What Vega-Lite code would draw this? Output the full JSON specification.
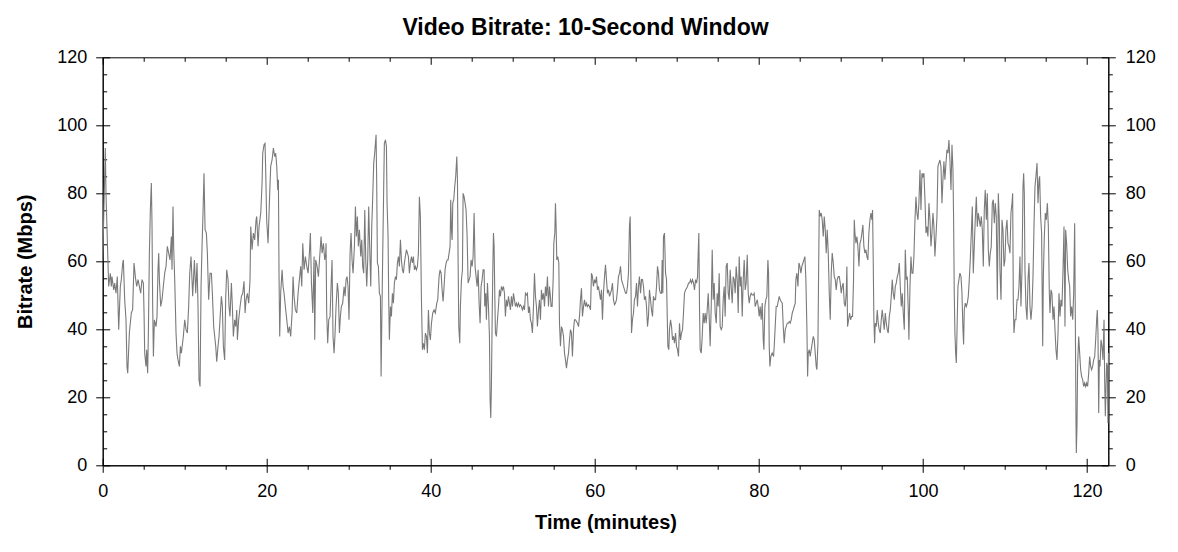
{
  "$schema": "https://vega.github.io/schema/vega-lite/v6.json",
  "width": 1005.6,
  "height": 408,
  "autosize": {"type": "none"},
  "padding": {"left": 102.7, "top": 57.3, "right": 69.7, "bottom": 86.7},
  "background": "white",
  "title": {
    "text": "Video Bitrate: 10-Second Window",
    "font": "Liberation Sans",
    "fontSize": 23,
    "fontWeight": "bold",
    "color": "black",
    "anchor": "middle",
    "frame": "bounds",
    "offset": 8
  },
  "config": {
    "view": {"stroke": "black", "strokeWidth": 1},
    "axis": {
      "labelFont": "Liberation Sans",
      "titleFont": "Liberation Sans",
      "labelFontSize": 18,
      "titleFontSize": 20,
      "titleFontWeight": "bold",
      "labelColor": "black",
      "titleColor": "black",
      "tickColor": "black",
      "domainColor": "black",
      "grid": false
    }
  },
  "data": {
    "values": [
      {"minute": 0.0, "bitrate": 60}, {"minute": 0.32, "bitrate": 93.3}, {"minute": 0.4, "bitrate": 80.0}, {"minute": 0.61, "bitrate": 62.4},
      {"minute": 0.73, "bitrate": 52.6}, {"minute": 0.93, "bitrate": 56.5}, {"minute": 1.05, "bitrate": 52.6}, {"minute": 1.13, "bitrate": 55.5},
      {"minute": 1.34, "bitrate": 51.6}, {"minute": 1.46, "bitrate": 53.6}, {"minute": 1.62, "bitrate": 50.6}, {"minute": 1.78, "bitrate": 55.5},
      {"minute": 1.95, "bitrate": 39.9}, {"minute": 2.15, "bitrate": 52.6}, {"minute": 2.27, "bitrate": 54.6}, {"minute": 2.44, "bitrate": 59.5},
      {"minute": 2.52, "bitrate": 60.4}, {"minute": 2.68, "bitrate": 48.7}, {"minute": 2.84, "bitrate": 42.8}, {"minute": 2.96, "bitrate": 29.1},
      {"minute": 3.05, "bitrate": 27.1}, {"minute": 3.25, "bitrate": 38.9}, {"minute": 3.49, "bitrate": 44.8}, {"minute": 3.65, "bitrate": 45.8},
      {"minute": 3.82, "bitrate": 59.5}, {"minute": 3.98, "bitrate": 55.5}, {"minute": 4.14, "bitrate": 52.6}, {"minute": 4.31, "bitrate": 54.6},
      {"minute": 4.47, "bitrate": 52.6}, {"minute": 4.63, "bitrate": 50.6}, {"minute": 4.79, "bitrate": 54.6}, {"minute": 4.96, "bitrate": 53.6},
      {"minute": 5.04, "bitrate": 44.8}, {"minute": 5.12, "bitrate": 33.0}, {"minute": 5.28, "bitrate": 29.1}, {"minute": 5.36, "bitrate": 34.0},
      {"minute": 5.48, "bitrate": 27.1}, {"minute": 5.57, "bitrate": 38.9}, {"minute": 5.69, "bitrate": 62.4}, {"minute": 5.81, "bitrate": 75.1},
      {"minute": 5.93, "bitrate": 83.0}, {"minute": 6.01, "bitrate": 71.2}, {"minute": 6.09, "bitrate": 47.7}, {"minute": 6.18, "bitrate": 32.0},
      {"minute": 6.3, "bitrate": 42.8}, {"minute": 6.5, "bitrate": 40.8}, {"minute": 6.62, "bitrate": 43.8}, {"minute": 6.74, "bitrate": 57.5},
      {"minute": 6.83, "bitrate": 62.4}, {"minute": 6.91, "bitrate": 54.6}, {"minute": 7.07, "bitrate": 46.7}, {"minute": 7.23, "bitrate": 48.7},
      {"minute": 7.39, "bitrate": 52.6}, {"minute": 7.56, "bitrate": 56.5}, {"minute": 7.72, "bitrate": 58.5}, {"minute": 7.88, "bitrate": 64.4},
      {"minute": 8.04, "bitrate": 62.4}, {"minute": 8.21, "bitrate": 60.4}, {"minute": 8.37, "bitrate": 67.3}, {"minute": 8.45, "bitrate": 57.5},
      {"minute": 8.57, "bitrate": 76.1}, {"minute": 8.65, "bitrate": 64.4}, {"minute": 8.78, "bitrate": 54.6}, {"minute": 8.94, "bitrate": 38.9},
      {"minute": 9.06, "bitrate": 33.0}, {"minute": 9.18, "bitrate": 31.0}, {"minute": 9.35, "bitrate": 29.1}, {"minute": 9.47, "bitrate": 35.0},
      {"minute": 9.59, "bitrate": 33.0}, {"minute": 9.83, "bitrate": 37.9}, {"minute": 10.0, "bitrate": 42.8}, {"minute": 10.16, "bitrate": 39.9},
      {"minute": 10.32, "bitrate": 38.9}, {"minute": 10.48, "bitrate": 46.7}, {"minute": 10.61, "bitrate": 56.5}, {"minute": 10.77, "bitrate": 61.4},
      {"minute": 10.97, "bitrate": 49.7}, {"minute": 11.18, "bitrate": 60.4}, {"minute": 11.34, "bitrate": 50.6}, {"minute": 11.5, "bitrate": 59.5},
      {"minute": 11.62, "bitrate": 46.7}, {"minute": 11.74, "bitrate": 25.2}, {"minute": 11.87, "bitrate": 23.2}, {"minute": 11.99, "bitrate": 52.6},
      {"minute": 12.11, "bitrate": 64.4}, {"minute": 12.23, "bitrate": 74.2}, {"minute": 12.35, "bitrate": 85.9}, {"minute": 12.48, "bitrate": 69.3},
      {"minute": 12.64, "bitrate": 68.3}, {"minute": 12.76, "bitrate": 62.4}, {"minute": 12.92, "bitrate": 48.7}, {"minute": 13.09, "bitrate": 56.5},
      {"minute": 13.25, "bitrate": 56.5}, {"minute": 13.37, "bitrate": 50.6}, {"minute": 13.53, "bitrate": 40.8},
      {"minute": 13.78, "bitrate": 35.0}, {"minute": 13.9, "bitrate": 30.5}, {"minute": 14.06, "bitrate": 35.0}, {"minute": 14.18, "bitrate": 37.9},
      {"minute": 14.3, "bitrate": 42.8}, {"minute": 14.47, "bitrate": 49.7}, {"minute": 14.59, "bitrate": 46.7}, {"minute": 14.71, "bitrate": 35.0},
      {"minute": 14.87, "bitrate": 31.0}, {"minute": 14.99, "bitrate": 48.7}, {"minute": 15.12, "bitrate": 57.5}, {"minute": 15.28, "bitrate": 54.6},
      {"minute": 15.4, "bitrate": 46.7}, {"minute": 15.52, "bitrate": 43.8}, {"minute": 15.69, "bitrate": 53.6}, {"minute": 15.81, "bitrate": 46.7},
      {"minute": 15.93, "bitrate": 37.9}, {"minute": 16.09, "bitrate": 42.8}, {"minute": 16.22, "bitrate": 40.8}, {"minute": 16.34, "bitrate": 45.7},
      {"minute": 16.42, "bitrate": 36.9}, {"minute": 16.58, "bitrate": 42.8}, {"minute": 16.75, "bitrate": 46.7}, {"minute": 16.91, "bitrate": 49.7},
      {"minute": 17.07, "bitrate": 50.6}, {"minute": 17.23, "bitrate": 54.1}, {"minute": 17.36, "bitrate": 44.8}, {"minute": 17.48, "bitrate": 48.7},
      {"minute": 17.64, "bitrate": 50.6}, {"minute": 17.8, "bitrate": 47.7}, {"minute": 17.96, "bitrate": 54.6}, {"minute": 18.05, "bitrate": 70.2},
      {"minute": 18.21, "bitrate": 63.4}, {"minute": 18.37, "bitrate": 68.3}, {"minute": 18.53, "bitrate": 66.3}, {"minute": 18.7, "bitrate": 72.2},
      {"minute": 18.78, "bitrate": 73.2}, {"minute": 18.94, "bitrate": 64.4}, {"minute": 19.06, "bitrate": 70.2}, {"minute": 19.27, "bitrate": 74.2},
      {"minute": 19.43, "bitrate": 83.0}, {"minute": 19.51, "bitrate": 91.8}, {"minute": 19.67, "bitrate": 94.3}, {"minute": 19.79, "bitrate": 94.7},
      {"minute": 19.87, "bitrate": 86.9}, {"minute": 19.99, "bitrate": 72.2}, {"minute": 20.16, "bitrate": 65.3}, {"minute": 20.32, "bitrate": 77.1},
      {"minute": 20.48, "bitrate": 87.9}, {"minute": 20.65, "bitrate": 89.8}, {"minute": 20.81, "bitrate": 93.3}, {"minute": 20.97, "bitrate": 90.8},
      {"minute": 21.09, "bitrate": 91.8}, {"minute": 21.22, "bitrate": 87.9}, {"minute": 21.34, "bitrate": 81.0}, {"minute": 21.42, "bitrate": 84.0},
      {"minute": 21.5, "bitrate": 55.5}, {"minute": 21.58, "bitrate": 37.9}, {"minute": 21.7, "bitrate": 50.6}, {"minute": 21.87, "bitrate": 57.5},
      {"minute": 21.99, "bitrate": 52.6}, {"minute": 22.11, "bitrate": 50.6}, {"minute": 22.27, "bitrate": 46.7}, {"minute": 22.44, "bitrate": 42.8},
      {"minute": 22.6, "bitrate": 38.9}, {"minute": 22.76, "bitrate": 40.8}, {"minute": 22.92, "bitrate": 37.9}, {"minute": 23.09, "bitrate": 44.8},
      {"minute": 23.21, "bitrate": 55.5}, {"minute": 23.33, "bitrate": 49.7}, {"minute": 23.49, "bitrate": 45.7}, {"minute": 23.66, "bitrate": 44.8},
      {"minute": 23.82, "bitrate": 50.6}, {"minute": 23.98, "bitrate": 54.6}, {"minute": 24.14, "bitrate": 58.5}, {"minute": 24.27, "bitrate": 52.6},
      {"minute": 24.39, "bitrate": 65.3}, {"minute": 24.55, "bitrate": 57.5}, {"minute": 24.71, "bitrate": 61.4}, {"minute": 24.88, "bitrate": 58.5},
      {"minute": 25.04, "bitrate": 56.5}, {"minute": 25.2, "bitrate": 62.4}, {"minute": 25.32, "bitrate": 68.3}, {"minute": 25.45, "bitrate": 53.6},
      {"minute": 25.61, "bitrate": 44.8}, {"minute": 25.77, "bitrate": 61.4}, {"minute": 25.85, "bitrate": 36.9}, {"minute": 25.97, "bitrate": 60.4},
      {"minute": 26.14, "bitrate": 58.5}, {"minute": 26.3, "bitrate": 55.5}, {"minute": 26.46, "bitrate": 61.4}, {"minute": 26.62, "bitrate": 67.3},
      {"minute": 26.75, "bitrate": 62.4}, {"minute": 26.91, "bitrate": 65.3}, {"minute": 27.07, "bitrate": 60.4}, {"minute": 27.19, "bitrate": 62.4},
      {"minute": 27.23, "bitrate": 65.3}, {"minute": 27.31, "bitrate": 44.8}, {"minute": 27.43, "bitrate": 35.9}, {"minute": 27.56, "bitrate": 42.8},
      {"minute": 27.72, "bitrate": 43.8}, {"minute": 27.84, "bitrate": 52.6}, {"minute": 27.96, "bitrate": 60.4}, {"minute": 28.08, "bitrate": 37.9},
      {"minute": 28.21, "bitrate": 33.0}, {"minute": 28.33, "bitrate": 38.9}, {"minute": 28.45, "bitrate": 46.7}, {"minute": 28.61, "bitrate": 53.6},
      {"minute": 28.73, "bitrate": 50.6}, {"minute": 28.86, "bitrate": 38.9}, {"minute": 28.98, "bitrate": 43.8}, {"minute": 29.1, "bitrate": 46.7},
      {"minute": 29.26, "bitrate": 47.7}, {"minute": 29.43, "bitrate": 52.6}, {"minute": 29.55, "bitrate": 49.7}, {"minute": 29.67, "bitrate": 54.6},
      {"minute": 29.79, "bitrate": 55.5}, {"minute": 29.91, "bitrate": 52.6}, {"minute": 30.03, "bitrate": 42.8}, {"minute": 30.16, "bitrate": 62.4},
      {"minute": 30.28, "bitrate": 68.3}, {"minute": 30.4, "bitrate": 60.4}, {"minute": 30.52, "bitrate": 56.5}, {"minute": 30.69, "bitrate": 64.4},
      {"minute": 30.81, "bitrate": 76.1}, {"minute": 30.93, "bitrate": 67.3}, {"minute": 31.05, "bitrate": 73.2}, {"minute": 31.17, "bitrate": 64.4},
      {"minute": 31.3, "bitrate": 69.3}, {"minute": 31.46, "bitrate": 61.4}, {"minute": 31.58, "bitrate": 66.3}, {"minute": 31.7, "bitrate": 58.5},
      {"minute": 31.82, "bitrate": 56.5}, {"minute": 31.95, "bitrate": 75.1}, {"minute": 32.07, "bitrate": 60.4}, {"minute": 32.19, "bitrate": 52.6},
      {"minute": 32.31, "bitrate": 60.4}, {"minute": 32.43, "bitrate": 76.1}, {"minute": 32.56, "bitrate": 63.4}, {"minute": 32.68, "bitrate": 52.6},
      {"minute": 32.8, "bitrate": 70.2}, {"minute": 32.92, "bitrate": 79.0}, {"minute": 33.04, "bitrate": 88.9}, {"minute": 33.16, "bitrate": 91.8},
      {"minute": 33.33, "bitrate": 97.2}, {"minute": 33.41, "bitrate": 82.0}, {"minute": 33.49, "bitrate": 59.5}, {"minute": 33.61, "bitrate": 58.5},
      {"minute": 33.73, "bitrate": 50.6}, {"minute": 33.86, "bitrate": 49.7}, {"minute": 33.94, "bitrate": 26.1}, {"minute": 34.02, "bitrate": 40.8},
      {"minute": 34.14, "bitrate": 62.4}, {"minute": 34.26, "bitrate": 82.0}, {"minute": 34.34, "bitrate": 94.7}, {"minute": 34.47, "bitrate": 95.7},
      {"minute": 34.59, "bitrate": 93.8}, {"minute": 34.67, "bitrate": 77.1}, {"minute": 34.79, "bitrate": 67.3}, {"minute": 34.87, "bitrate": 48.7},
      {"minute": 34.95, "bitrate": 36.9}, {"minute": 35.08, "bitrate": 46.7}, {"minute": 35.2, "bitrate": 43.8}, {"minute": 35.32, "bitrate": 50.6},
      {"minute": 35.44, "bitrate": 47.7}, {"minute": 35.56, "bitrate": 53.6}, {"minute": 35.69, "bitrate": 55.5}, {"minute": 35.81, "bitrate": 54.6},
      {"minute": 35.93, "bitrate": 59.5}, {"minute": 36.05, "bitrate": 61.4}, {"minute": 36.17, "bitrate": 58.5}, {"minute": 36.3, "bitrate": 66.3},
      {"minute": 36.42, "bitrate": 60.4}, {"minute": 36.54, "bitrate": 57.5}, {"minute": 36.66, "bitrate": 56.5}, {"minute": 36.78, "bitrate": 59.5},
      {"minute": 36.9, "bitrate": 61.4}, {"minute": 37.03, "bitrate": 63.4}, {"minute": 37.15, "bitrate": 62.4}, {"minute": 37.27, "bitrate": 61.4},
      {"minute": 37.39, "bitrate": 56.5}, {"minute": 37.51, "bitrate": 59.5}, {"minute": 37.64, "bitrate": 61.4}, {"minute": 37.76, "bitrate": 59.5},
      {"minute": 37.88, "bitrate": 61.4}, {"minute": 38.0, "bitrate": 57.5}, {"minute": 38.12, "bitrate": 58.5}, {"minute": 38.25, "bitrate": 57.5},
      {"minute": 38.37, "bitrate": 58.5}, {"minute": 38.49, "bitrate": 62.4}, {"minute": 38.61, "bitrate": 79.0}, {"minute": 38.73, "bitrate": 73.2},
      {"minute": 38.86, "bitrate": 48.7}, {"minute": 38.98, "bitrate": 34.0}, {"minute": 39.1, "bitrate": 35.9}, {"minute": 39.22, "bitrate": 34.0},
      {"minute": 39.34, "bitrate": 38.9}, {"minute": 39.47, "bitrate": 37.9}, {"minute": 39.59, "bitrate": 33.0}, {"minute": 39.71, "bitrate": 45.7},
      {"minute": 39.83, "bitrate": 38.9}, {"minute": 39.95, "bitrate": 36.9}, {"minute": 40.08, "bitrate": 41.8}, {"minute": 40.24, "bitrate": 44.8},
      {"minute": 40.4, "bitrate": 45.7}, {"minute": 40.56, "bitrate": 44.8}, {"minute": 40.73, "bitrate": 47.7}, {"minute": 40.85, "bitrate": 48.7},
      {"minute": 40.89, "bitrate": 50.6}, {"minute": 41.01, "bitrate": 55.5}, {"minute": 41.13, "bitrate": 57.5}, {"minute": 41.26, "bitrate": 56.5},
      {"minute": 41.38, "bitrate": 51.6}, {"minute": 41.5, "bitrate": 48.2}, {"minute": 41.62, "bitrate": 52.6}, {"minute": 41.74, "bitrate": 57.5},
      {"minute": 41.87, "bitrate": 59.5}, {"minute": 41.99, "bitrate": 60.4}, {"minute": 42.11, "bitrate": 60.4}, {"minute": 42.23, "bitrate": 62.4},
      {"minute": 42.35, "bitrate": 64.4}, {"minute": 42.43, "bitrate": 78.1}, {"minute": 42.52, "bitrate": 69.3}, {"minute": 42.6, "bitrate": 66.3},
      {"minute": 42.68, "bitrate": 77.1}, {"minute": 42.8, "bitrate": 78.1}, {"minute": 42.92, "bitrate": 82.0}, {"minute": 43.04, "bitrate": 85.0},
      {"minute": 43.17, "bitrate": 90.8}, {"minute": 43.25, "bitrate": 84.0}, {"minute": 43.33, "bitrate": 60.4}, {"minute": 43.41, "bitrate": 40.8},
      {"minute": 43.53, "bitrate": 35.9}, {"minute": 43.61, "bitrate": 46.7}, {"minute": 43.74, "bitrate": 54.6}, {"minute": 43.86, "bitrate": 57.5},
      {"minute": 43.94, "bitrate": 80.0}, {"minute": 44.06, "bitrate": 79.0}, {"minute": 44.18, "bitrate": 77.1}, {"minute": 44.3, "bitrate": 75.1},
      {"minute": 44.43, "bitrate": 67.3}, {"minute": 44.55, "bitrate": 53.6}, {"minute": 44.67, "bitrate": 54.6}, {"minute": 44.79, "bitrate": 55.5},
      {"minute": 44.91, "bitrate": 60.4}, {"minute": 45.04, "bitrate": 58.5}, {"minute": 45.16, "bitrate": 61.4}, {"minute": 45.28, "bitrate": 74.2},
      {"minute": 45.4, "bitrate": 58.5}, {"minute": 45.52, "bitrate": 55.5}, {"minute": 45.65, "bitrate": 52.6}, {"minute": 45.77, "bitrate": 57.5},
      {"minute": 45.89, "bitrate": 47.7}, {"minute": 46.01, "bitrate": 41.8}, {"minute": 46.13, "bitrate": 52.6}, {"minute": 46.26, "bitrate": 54.6},
      {"minute": 46.38, "bitrate": 57.5}, {"minute": 46.5, "bitrate": 57.5}, {"minute": 46.58, "bitrate": 46.7}, {"minute": 46.7, "bitrate": 50.6},
      {"minute": 46.78, "bitrate": 42.8}, {"minute": 46.91, "bitrate": 53.6}, {"minute": 47.03, "bitrate": 46.7}, {"minute": 47.15, "bitrate": 37.9},
      {"minute": 47.23, "bitrate": 19.3}, {"minute": 47.31, "bitrate": 13.9}, {"minute": 47.39, "bitrate": 23.2}, {"minute": 47.48, "bitrate": 42.8},
      {"minute": 47.56, "bitrate": 57.5}, {"minute": 47.64, "bitrate": 68.3}, {"minute": 47.72, "bitrate": 64.4}, {"minute": 47.8, "bitrate": 50.6},
      {"minute": 47.88, "bitrate": 38.9}, {"minute": 48.0, "bitrate": 37.9}, {"minute": 48.13, "bitrate": 42.8}, {"minute": 48.25, "bitrate": 46.7},
      {"minute": 48.37, "bitrate": 51.6}, {"minute": 48.49, "bitrate": 49.7}, {"minute": 48.61, "bitrate": 52.6}, {"minute": 48.74, "bitrate": 51.6},
      {"minute": 48.86, "bitrate": 52.6}, {"minute": 48.98, "bitrate": 50.6}, {"minute": 49.1, "bitrate": 43.8}, {"minute": 49.22, "bitrate": 48.7},
      {"minute": 49.35, "bitrate": 46.7}, {"minute": 49.47, "bitrate": 49.7}, {"minute": 49.59, "bitrate": 47.7}, {"minute": 49.71, "bitrate": 45.7},
      {"minute": 49.83, "bitrate": 49.7}, {"minute": 49.96, "bitrate": 46.7}, {"minute": 50.08, "bitrate": 50.6}, {"minute": 50.2, "bitrate": 48.7},
      {"minute": 50.32, "bitrate": 46.7}, {"minute": 50.44, "bitrate": 47.7}, {"minute": 50.56, "bitrate": 46.7}, {"minute": 50.69, "bitrate": 47.7},
      {"minute": 50.81, "bitrate": 46.7}, {"minute": 50.93, "bitrate": 47.2}, {"minute": 51.05, "bitrate": 46.7}, {"minute": 51.17, "bitrate": 45.7},
      {"minute": 51.3, "bitrate": 46.7}, {"minute": 51.42, "bitrate": 45.7}, {"minute": 51.54, "bitrate": 50.6}, {"minute": 51.66, "bitrate": 50.1},
      {"minute": 51.78, "bitrate": 50.6}, {"minute": 51.91, "bitrate": 44.8}, {"minute": 52.03, "bitrate": 46.7}, {"minute": 52.15, "bitrate": 42.8},
      {"minute": 52.27, "bitrate": 41.8}, {"minute": 52.39, "bitrate": 38.9}, {"minute": 52.52, "bitrate": 46.7}, {"minute": 52.64, "bitrate": 56.5},
      {"minute": 52.76, "bitrate": 49.7}, {"minute": 52.88, "bitrate": 46.7}, {"minute": 53.0, "bitrate": 40.8}, {"minute": 53.13, "bitrate": 45.7},
      {"minute": 53.25, "bitrate": 48.7}, {"minute": 53.37, "bitrate": 42.8}, {"minute": 53.49, "bitrate": 51.6}, {"minute": 53.61, "bitrate": 48.7},
      {"minute": 53.74, "bitrate": 50.6}, {"minute": 53.86, "bitrate": 46.7}, {"minute": 53.98, "bitrate": 52.6}, {"minute": 54.1, "bitrate": 49.7},
      {"minute": 54.22, "bitrate": 55.5}, {"minute": 54.35, "bitrate": 46.7}, {"minute": 54.47, "bitrate": 52.6},
      {"minute": 54.55, "bitrate": 50.6}, {"minute": 54.67, "bitrate": 46.7}, {"minute": 54.79, "bitrate": 46.7}, {"minute": 54.92, "bitrate": 54.6},
      {"minute": 55.0, "bitrate": 65.3}, {"minute": 55.12, "bitrate": 68.3}, {"minute": 55.2, "bitrate": 77.1}, {"minute": 55.28, "bitrate": 70.2},
      {"minute": 55.36, "bitrate": 60.4}, {"minute": 55.48, "bitrate": 61.4}, {"minute": 55.61, "bitrate": 59.5}, {"minute": 55.69, "bitrate": 41.8},
      {"minute": 55.81, "bitrate": 35.0}, {"minute": 55.93, "bitrate": 40.8}, {"minute": 56.05, "bitrate": 39.9}, {"minute": 56.18, "bitrate": 37.9},
      {"minute": 56.3, "bitrate": 33.0}, {"minute": 56.42, "bitrate": 31.0}, {"minute": 56.54, "bitrate": 28.6}, {"minute": 56.66, "bitrate": 31.0},
      {"minute": 56.79, "bitrate": 33.0}, {"minute": 56.91, "bitrate": 36.9}, {"minute": 57.03, "bitrate": 39.9}, {"minute": 57.15, "bitrate": 38.9},
      {"minute": 57.27, "bitrate": 32.0}, {"minute": 57.4, "bitrate": 39.9}, {"minute": 57.52, "bitrate": 42.8}, {"minute": 57.64, "bitrate": 42.8},
      {"minute": 57.76, "bitrate": 42.3}, {"minute": 57.88, "bitrate": 41.8}, {"minute": 58.01, "bitrate": 40.8}, {"minute": 58.13, "bitrate": 43.8},
      {"minute": 58.25, "bitrate": 48.7}, {"minute": 58.37, "bitrate": 52.1}, {"minute": 58.49, "bitrate": 43.8}, {"minute": 58.62, "bitrate": 46.7},
      {"minute": 58.74, "bitrate": 48.7}, {"minute": 58.86, "bitrate": 46.7}, {"minute": 58.98, "bitrate": 47.7}, {"minute": 59.1, "bitrate": 46.7},
      {"minute": 59.22, "bitrate": 47.2}, {"minute": 59.35, "bitrate": 46.7}, {"minute": 59.47, "bitrate": 45.7}, {"minute": 59.59, "bitrate": 56.5},
      {"minute": 59.71, "bitrate": 55.5}, {"minute": 59.83, "bitrate": 52.6}, {"minute": 59.96, "bitrate": 54.6}, {"minute": 60.08, "bitrate": 53.6},
      {"minute": 60.2, "bitrate": 55.5}, {"minute": 60.32, "bitrate": 51.6}, {"minute": 60.44, "bitrate": 52.6}, {"minute": 60.57, "bitrate": 50.6},
      {"minute": 60.69, "bitrate": 48.7}, {"minute": 60.81, "bitrate": 51.6}, {"minute": 60.93, "bitrate": 42.8}, {"minute": 61.05, "bitrate": 50.6},
      {"minute": 61.18, "bitrate": 55.5}, {"minute": 61.3, "bitrate": 59.0}, {"minute": 61.42, "bitrate": 54.6}, {"minute": 61.54, "bitrate": 50.6},
      {"minute": 61.66, "bitrate": 51.6}, {"minute": 61.79, "bitrate": 49.7}, {"minute": 61.91, "bitrate": 50.6}, {"minute": 62.03, "bitrate": 51.6},
      {"minute": 62.15, "bitrate": 53.6}, {"minute": 62.27, "bitrate": 48.7}, {"minute": 62.4, "bitrate": 47.2}, {"minute": 62.52, "bitrate": 47.7},
      {"minute": 62.64, "bitrate": 48.7}, {"minute": 62.76, "bitrate": 51.6}, {"minute": 62.88, "bitrate": 55.5}, {"minute": 63.01, "bitrate": 56.5},
      {"minute": 63.13, "bitrate": 58.5}, {"minute": 63.25, "bitrate": 54.6}, {"minute": 63.37, "bitrate": 53.6}, {"minute": 63.49, "bitrate": 52.6},
      {"minute": 63.62, "bitrate": 51.6}, {"minute": 63.74, "bitrate": 50.6}, {"minute": 63.86, "bitrate": 50.6}, {"minute": 63.98, "bitrate": 52.6},
      {"minute": 64.1, "bitrate": 56.5}, {"minute": 64.22, "bitrate": 70.2}, {"minute": 64.31, "bitrate": 73.2}, {"minute": 64.39, "bitrate": 56.5},
      {"minute": 64.47, "bitrate": 38.9}, {"minute": 64.59, "bitrate": 42.8}, {"minute": 64.71, "bitrate": 44.8}, {"minute": 64.83, "bitrate": 48.7},
      {"minute": 64.96, "bitrate": 49.7}, {"minute": 65.08, "bitrate": 53.6}, {"minute": 65.2, "bitrate": 46.7}, {"minute": 65.32, "bitrate": 52.6},
      {"minute": 65.44, "bitrate": 55.5}, {"minute": 65.57, "bitrate": 50.6}, {"minute": 65.69, "bitrate": 54.6}, {"minute": 65.81, "bitrate": 54.6},
      {"minute": 65.93, "bitrate": 52.6}, {"minute": 66.05, "bitrate": 48.7}, {"minute": 66.18, "bitrate": 49.7}, {"minute": 66.3, "bitrate": 46.7},
      {"minute": 66.42, "bitrate": 40.8}, {"minute": 66.54, "bitrate": 43.8}, {"minute": 66.66, "bitrate": 51.6}, {"minute": 66.79, "bitrate": 48.7},
      {"minute": 66.91, "bitrate": 45.7}, {"minute": 67.03, "bitrate": 43.8}, {"minute": 67.15, "bitrate": 49.7}, {"minute": 67.27, "bitrate": 48.7},
      {"minute": 67.4, "bitrate": 48.7}, {"minute": 67.52, "bitrate": 52.6}, {"minute": 67.64, "bitrate": 58.5}, {"minute": 67.76, "bitrate": 56.5},
      {"minute": 67.88, "bitrate": 51.6}, {"minute": 68.01, "bitrate": 50.6}, {"minute": 68.13, "bitrate": 50.6},
      {"minute": 68.21, "bitrate": 60.4}, {"minute": 68.29, "bitrate": 50.6}, {"minute": 68.37, "bitrate": 67.3}, {"minute": 68.49, "bitrate": 68.3},
      {"minute": 68.62, "bitrate": 56.5}, {"minute": 68.74, "bitrate": 54.6}, {"minute": 68.82, "bitrate": 44.8}, {"minute": 68.9, "bitrate": 35.0},
      {"minute": 69.02, "bitrate": 34.0}, {"minute": 69.1, "bitrate": 39.9}, {"minute": 69.23, "bitrate": 42.8}, {"minute": 69.35, "bitrate": 40.8},
      {"minute": 69.47, "bitrate": 36.9}, {"minute": 69.59, "bitrate": 37.9}, {"minute": 69.71, "bitrate": 35.9}, {"minute": 69.84, "bitrate": 38.9},
      {"minute": 69.96, "bitrate": 35.0}, {"minute": 70.08, "bitrate": 34.0}, {"minute": 70.2, "bitrate": 32.0}, {"minute": 70.32, "bitrate": 41.8},
      {"minute": 70.45, "bitrate": 36.9}, {"minute": 70.57, "bitrate": 38.9}, {"minute": 70.69, "bitrate": 39.9}, {"minute": 70.81, "bitrate": 44.8},
      {"minute": 70.93, "bitrate": 50.6}, {"minute": 71.06, "bitrate": 51.6}, {"minute": 71.18, "bitrate": 52.1}, {"minute": 71.3, "bitrate": 52.6},
      {"minute": 71.42, "bitrate": 53.6}, {"minute": 71.54, "bitrate": 53.6}, {"minute": 71.67, "bitrate": 54.6}, {"minute": 71.79, "bitrate": 53.6},
      {"minute": 71.91, "bitrate": 54.6}, {"minute": 72.03, "bitrate": 53.6}, {"minute": 72.15, "bitrate": 51.6}, {"minute": 72.28, "bitrate": 54.6},
      {"minute": 72.4, "bitrate": 53.6}, {"minute": 72.52, "bitrate": 55.5}, {"minute": 72.6, "bitrate": 62.4}, {"minute": 72.68, "bitrate": 68.3},
      {"minute": 72.76, "bitrate": 46.7}, {"minute": 72.84, "bitrate": 34.0}, {"minute": 72.97, "bitrate": 33.0}, {"minute": 73.09, "bitrate": 37.9},
      {"minute": 73.21, "bitrate": 44.8}, {"minute": 73.33, "bitrate": 41.8}, {"minute": 73.45, "bitrate": 44.8}, {"minute": 73.58, "bitrate": 41.8},
      {"minute": 73.7, "bitrate": 45.7}, {"minute": 73.82, "bitrate": 50.6}, {"minute": 73.94, "bitrate": 43.8}, {"minute": 74.06, "bitrate": 35.0},
      {"minute": 74.19, "bitrate": 46.7}, {"minute": 74.31, "bitrate": 63.4}, {"minute": 74.43, "bitrate": 48.7}, {"minute": 74.55, "bitrate": 53.6},
      {"minute": 74.67, "bitrate": 44.8}, {"minute": 74.8, "bitrate": 41.8}, {"minute": 74.92, "bitrate": 50.6}, {"minute": 75.04, "bitrate": 46.7},
      {"minute": 75.16, "bitrate": 56.5}, {"minute": 75.28, "bitrate": 40.8}, {"minute": 75.41, "bitrate": 39.9}, {"minute": 75.53, "bitrate": 40.8},
      {"minute": 75.65, "bitrate": 48.7}, {"minute": 75.77, "bitrate": 52.6}, {"minute": 75.89, "bitrate": 43.8}, {"minute": 76.01, "bitrate": 58.5},
      {"minute": 76.14, "bitrate": 59.5}, {"minute": 76.26, "bitrate": 50.6}, {"minute": 76.38, "bitrate": 48.7}, {"minute": 76.5, "bitrate": 57.5},
      {"minute": 76.62, "bitrate": 52.6}, {"minute": 76.75, "bitrate": 47.7}, {"minute": 76.87, "bitrate": 55.5}, {"minute": 76.99, "bitrate": 54.6},
      {"minute": 77.11, "bitrate": 50.6}, {"minute": 77.23, "bitrate": 58.5}, {"minute": 77.36, "bitrate": 54.6}, {"minute": 77.48, "bitrate": 44.8},
      {"minute": 77.6, "bitrate": 61.4}, {"minute": 77.72, "bitrate": 52.6}, {"minute": 77.84, "bitrate": 55.5}, {"minute": 77.97, "bitrate": 43.8},
      {"minute": 78.09, "bitrate": 54.6}, {"minute": 78.21, "bitrate": 60.4}, {"minute": 78.33, "bitrate": 51.6}, {"minute": 78.45, "bitrate": 53.6},
      {"minute": 78.58, "bitrate": 61.9}, {"minute": 78.7, "bitrate": 50.6}, {"minute": 78.82, "bitrate": 47.7}, {"minute": 78.94, "bitrate": 49.7},
      {"minute": 79.06, "bitrate": 50.6}, {"minute": 79.19, "bitrate": 50.1}, {"minute": 79.31, "bitrate": 50.1}, {"minute": 79.43, "bitrate": 50.6},
      {"minute": 79.55, "bitrate": 46.7}, {"minute": 79.67, "bitrate": 47.7}, {"minute": 79.8, "bitrate": 48.7}, {"minute": 79.92, "bitrate": 46.7},
      {"minute": 80.04, "bitrate": 43.8}, {"minute": 80.16, "bitrate": 46.7}, {"minute": 80.28, "bitrate": 42.8}, {"minute": 80.41, "bitrate": 47.7},
      {"minute": 80.53, "bitrate": 36.9}, {"minute": 80.61, "bitrate": 34.0}, {"minute": 80.73, "bitrate": 46.7}, {"minute": 80.85, "bitrate": 48.7},
      {"minute": 80.97, "bitrate": 49.7}, {"minute": 81.1, "bitrate": 60.4}, {"minute": 81.18, "bitrate": 56.5}, {"minute": 81.26, "bitrate": 35.0},
      {"minute": 81.34, "bitrate": 29.1}, {"minute": 81.46, "bitrate": 32.0}, {"minute": 81.62, "bitrate": 33.0}, {"minute": 81.79, "bitrate": 32.0},
      {"minute": 81.87, "bitrate": 35.0}, {"minute": 81.99, "bitrate": 40.8}, {"minute": 82.11, "bitrate": 46.7}, {"minute": 82.24, "bitrate": 46.7},
      {"minute": 82.36, "bitrate": 48.2}, {"minute": 82.48, "bitrate": 49.7}, {"minute": 82.6, "bitrate": 48.7}, {"minute": 82.72, "bitrate": 48.2},
      {"minute": 82.85, "bitrate": 47.7}, {"minute": 82.97, "bitrate": 40.8}, {"minute": 83.09, "bitrate": 35.9}, {"minute": 83.21, "bitrate": 39.9},
      {"minute": 83.33, "bitrate": 40.8}, {"minute": 83.46, "bitrate": 41.8}, {"minute": 83.58, "bitrate": 41.8}, {"minute": 83.7, "bitrate": 42.3},
      {"minute": 83.82, "bitrate": 41.8}, {"minute": 83.94, "bitrate": 42.8}, {"minute": 84.07, "bitrate": 44.8}, {"minute": 84.19, "bitrate": 45.7},
      {"minute": 84.31, "bitrate": 46.7}, {"minute": 84.43, "bitrate": 47.7}, {"minute": 84.51, "bitrate": 54.6}, {"minute": 84.63, "bitrate": 56.5},
      {"minute": 84.76, "bitrate": 52.6}, {"minute": 84.88, "bitrate": 59.5}, {"minute": 85.0, "bitrate": 58.5}, {"minute": 85.12, "bitrate": 56.5},
      {"minute": 85.24, "bitrate": 58.5}, {"minute": 85.37, "bitrate": 59.5}, {"minute": 85.49, "bitrate": 60.4}, {"minute": 85.61, "bitrate": 61.4},
      {"minute": 85.73, "bitrate": 54.6}, {"minute": 85.85, "bitrate": 40.8}, {"minute": 85.94, "bitrate": 26.1}, {"minute": 86.02, "bitrate": 33.0},
      {"minute": 86.14, "bitrate": 34.0}, {"minute": 86.26, "bitrate": 32.0}, {"minute": 86.38, "bitrate": 34.0}, {"minute": 86.5, "bitrate": 35.9},
      {"minute": 86.63, "bitrate": 37.9}, {"minute": 86.75, "bitrate": 36.9}, {"minute": 86.87, "bitrate": 33.0}, {"minute": 86.99, "bitrate": 29.1},
      {"minute": 87.07, "bitrate": 28.1}, {"minute": 87.2, "bitrate": 35.9}, {"minute": 87.28, "bitrate": 56.5}, {"minute": 87.36, "bitrate": 75.1},
      {"minute": 87.48, "bitrate": 73.2}, {"minute": 87.6, "bitrate": 74.2}, {"minute": 87.72, "bitrate": 72.2}, {"minute": 87.85, "bitrate": 67.3},
      {"minute": 87.97, "bitrate": 73.2}, {"minute": 88.09, "bitrate": 69.3}, {"minute": 88.21, "bitrate": 62.4}, {"minute": 88.33, "bitrate": 69.3},
      {"minute": 88.46, "bitrate": 62.4}, {"minute": 88.58, "bitrate": 50.6}, {"minute": 88.7, "bitrate": 42.8}, {"minute": 88.82, "bitrate": 56.5},
      {"minute": 88.94, "bitrate": 62.4}, {"minute": 89.07, "bitrate": 59.5}, {"minute": 89.19, "bitrate": 55.5}, {"minute": 89.31, "bitrate": 54.6},
      {"minute": 89.43, "bitrate": 51.6}, {"minute": 89.55, "bitrate": 54.6}, {"minute": 89.67, "bitrate": 55.5}, {"minute": 89.8, "bitrate": 55.5},
      {"minute": 89.92, "bitrate": 53.6}, {"minute": 90.04, "bitrate": 50.6}, {"minute": 90.16, "bitrate": 52.6}, {"minute": 90.28, "bitrate": 53.6},
      {"minute": 90.41, "bitrate": 47.7}, {"minute": 90.53, "bitrate": 46.7}, {"minute": 90.65, "bitrate": 50.6}, {"minute": 90.73, "bitrate": 58.5},
      {"minute": 90.81, "bitrate": 40.8}, {"minute": 90.94, "bitrate": 42.8}, {"minute": 91.06, "bitrate": 44.8}, {"minute": 91.18, "bitrate": 42.8},
      {"minute": 91.3, "bitrate": 43.8}, {"minute": 91.42, "bitrate": 43.8}, {"minute": 91.54, "bitrate": 54.6}, {"minute": 91.63, "bitrate": 72.2},
      {"minute": 91.71, "bitrate": 68.3}, {"minute": 91.83, "bitrate": 65.3}, {"minute": 91.95, "bitrate": 67.3}, {"minute": 92.07, "bitrate": 64.4},
      {"minute": 92.2, "bitrate": 58.5}, {"minute": 92.32, "bitrate": 65.3}, {"minute": 92.44, "bitrate": 66.3}, {"minute": 92.56, "bitrate": 68.3},
      {"minute": 92.68, "bitrate": 70.7}, {"minute": 92.8, "bitrate": 64.4}, {"minute": 92.93, "bitrate": 62.4}, {"minute": 93.05, "bitrate": 63.4},
      {"minute": 93.17, "bitrate": 61.4}, {"minute": 93.29, "bitrate": 60.4}, {"minute": 93.41, "bitrate": 68.3}, {"minute": 93.54, "bitrate": 72.2},
      {"minute": 93.66, "bitrate": 74.2}, {"minute": 93.78, "bitrate": 72.2}, {"minute": 93.86, "bitrate": 75.1}, {"minute": 93.94, "bitrate": 60.4},
      {"minute": 94.02, "bitrate": 42.8}, {"minute": 94.11, "bitrate": 35.9}, {"minute": 94.19, "bitrate": 41.8}, {"minute": 94.31, "bitrate": 40.8},
      {"minute": 94.43, "bitrate": 45.7}, {"minute": 94.55, "bitrate": 41.8}, {"minute": 94.67, "bitrate": 39.9}, {"minute": 94.8, "bitrate": 38.9},
      {"minute": 94.92, "bitrate": 42.8}, {"minute": 95.04, "bitrate": 45.7}, {"minute": 95.16, "bitrate": 42.8}, {"minute": 95.28, "bitrate": 39.9},
      {"minute": 95.41, "bitrate": 44.8},
      {"minute": 95.53, "bitrate": 41.8}, {"minute": 95.65, "bitrate": 39.9}, {"minute": 95.77, "bitrate": 38.9}, {"minute": 95.9, "bitrate": 43.8},
      {"minute": 96.02, "bitrate": 45.7}, {"minute": 96.14, "bitrate": 49.7}, {"minute": 96.26, "bitrate": 54.6}, {"minute": 96.38, "bitrate": 50.6},
      {"minute": 96.51, "bitrate": 48.7}, {"minute": 96.63, "bitrate": 52.6}, {"minute": 96.75, "bitrate": 53.6}, {"minute": 96.87, "bitrate": 55.5},
      {"minute": 96.99, "bitrate": 56.5}, {"minute": 97.12, "bitrate": 59.5}, {"minute": 97.24, "bitrate": 52.6}, {"minute": 97.36, "bitrate": 46.7},
      {"minute": 97.48, "bitrate": 50.6}, {"minute": 97.6, "bitrate": 44.8}, {"minute": 97.73, "bitrate": 39.9}, {"minute": 97.85, "bitrate": 63.4},
      {"minute": 97.97, "bitrate": 54.6}, {"minute": 98.09, "bitrate": 55.5}, {"minute": 98.21, "bitrate": 45.7}, {"minute": 98.29, "bitrate": 36.9},
      {"minute": 98.42, "bitrate": 52.6}, {"minute": 98.54, "bitrate": 61.4}, {"minute": 98.66, "bitrate": 56.5}, {"minute": 98.78, "bitrate": 56.5},
      {"minute": 98.9, "bitrate": 61.4}, {"minute": 99.03, "bitrate": 72.2}, {"minute": 99.15, "bitrate": 79.0}, {"minute": 99.27, "bitrate": 74.2},
      {"minute": 99.39, "bitrate": 72.2}, {"minute": 99.51, "bitrate": 77.1}, {"minute": 99.64, "bitrate": 86.9}, {"minute": 99.76, "bitrate": 75.1},
      {"minute": 99.88, "bitrate": 85.9}, {"minute": 100.0, "bitrate": 84.9}, {"minute": 100.12, "bitrate": 85.9}, {"minute": 100.25, "bitrate": 78.1},
      {"minute": 100.37, "bitrate": 68.3}, {"minute": 100.49, "bitrate": 70.2}, {"minute": 100.61, "bitrate": 67.3}, {"minute": 100.73, "bitrate": 77.1},
      {"minute": 100.86, "bitrate": 72.2}, {"minute": 100.98, "bitrate": 64.4}, {"minute": 101.1, "bitrate": 68.3}, {"minute": 101.22, "bitrate": 74.2},
      {"minute": 101.34, "bitrate": 70.2}, {"minute": 101.46, "bitrate": 61.4}, {"minute": 101.59, "bitrate": 67.3}, {"minute": 101.71, "bitrate": 73.2},
      {"minute": 101.83, "bitrate": 87.9}, {"minute": 101.95, "bitrate": 88.9}, {"minute": 102.07, "bitrate": 89.8}, {"minute": 102.2, "bitrate": 87.9},
      {"minute": 102.32, "bitrate": 77.1}, {"minute": 102.44, "bitrate": 84.0}, {"minute": 102.56, "bitrate": 89.4}, {"minute": 102.68, "bitrate": 84.0},
      {"minute": 102.81, "bitrate": 88.9}, {"minute": 102.93, "bitrate": 92.8}, {"minute": 103.05, "bitrate": 91.8}, {"minute": 103.17, "bitrate": 95.7},
      {"minute": 103.29, "bitrate": 89.8}, {"minute": 103.42, "bitrate": 81.0}, {"minute": 103.54, "bitrate": 94.3}, {"minute": 103.66, "bitrate": 86.9},
      {"minute": 103.74, "bitrate": 72.2}, {"minute": 103.82, "bitrate": 50.6}, {"minute": 103.9, "bitrate": 38.9}, {"minute": 103.99, "bitrate": 33.0},
      {"minute": 104.07, "bitrate": 30.1}, {"minute": 104.15, "bitrate": 38.9}, {"minute": 104.27, "bitrate": 52.6}, {"minute": 104.39, "bitrate": 54.6},
      {"minute": 104.51, "bitrate": 56.5}, {"minute": 104.64, "bitrate": 55.5}, {"minute": 104.76, "bitrate": 50.6}, {"minute": 104.88, "bitrate": 39.9},
      {"minute": 104.96, "bitrate": 35.5}, {"minute": 105.04, "bitrate": 45.7}, {"minute": 105.16, "bitrate": 47.7}, {"minute": 105.29, "bitrate": 46.7},
      {"minute": 105.41, "bitrate": 47.7}, {"minute": 105.53, "bitrate": 49.7}, {"minute": 105.65, "bitrate": 54.6}, {"minute": 105.77, "bitrate": 60.4},
      {"minute": 105.9, "bitrate": 68.3}, {"minute": 106.02, "bitrate": 76.1}, {"minute": 106.14, "bitrate": 56.5}, {"minute": 106.26, "bitrate": 64.4},
      {"minute": 106.38, "bitrate": 72.2}, {"minute": 106.51, "bitrate": 79.0}, {"minute": 106.63, "bitrate": 70.2}, {"minute": 106.75, "bitrate": 74.2},
      {"minute": 106.87, "bitrate": 72.2}, {"minute": 106.99, "bitrate": 70.2}, {"minute": 107.12, "bitrate": 73.2}, {"minute": 107.24, "bitrate": 69.3},
      {"minute": 107.36, "bitrate": 58.5}, {"minute": 107.48, "bitrate": 75.1}, {"minute": 107.6, "bitrate": 81.0}, {"minute": 107.73, "bitrate": 72.2},
      {"minute": 107.85, "bitrate": 80.0}, {"minute": 107.97, "bitrate": 63.4}, {"minute": 108.09, "bitrate": 58.5}, {"minute": 108.21, "bitrate": 62.4},
      {"minute": 108.33, "bitrate": 64.4}, {"minute": 108.46, "bitrate": 77.1}, {"minute": 108.58, "bitrate": 78.1}, {"minute": 108.7, "bitrate": 71.2},
      {"minute": 108.82, "bitrate": 77.1}, {"minute": 108.94, "bitrate": 73.2}, {"minute": 109.07, "bitrate": 48.7},
      {"minute": 109.19, "bitrate": 80.0}, {"minute": 109.31, "bitrate": 72.2}, {"minute": 109.39, "bitrate": 57.5}, {"minute": 109.52, "bitrate": 48.7},
      {"minute": 109.64, "bitrate": 72.2}, {"minute": 109.76, "bitrate": 69.3}, {"minute": 109.88, "bitrate": 58.5}, {"minute": 110.0, "bitrate": 60.4},
      {"minute": 110.12, "bitrate": 69.3}, {"minute": 110.25, "bitrate": 72.2}, {"minute": 110.37, "bitrate": 65.3}, {"minute": 110.49, "bitrate": 64.4},
      {"minute": 110.61, "bitrate": 62.4}, {"minute": 110.73, "bitrate": 74.2}, {"minute": 110.86, "bitrate": 77.1}, {"minute": 110.94, "bitrate": 80.0},
      {"minute": 111.02, "bitrate": 47.7}, {"minute": 111.1, "bitrate": 38.9}, {"minute": 111.22, "bitrate": 42.8}, {"minute": 111.34, "bitrate": 42.8},
      {"minute": 111.47, "bitrate": 48.7}, {"minute": 111.59, "bitrate": 48.7}, {"minute": 111.71, "bitrate": 52.6}, {"minute": 111.83, "bitrate": 61.4},
      {"minute": 111.95, "bitrate": 46.7}, {"minute": 112.08, "bitrate": 57.5}, {"minute": 112.2, "bitrate": 82.0}, {"minute": 112.28, "bitrate": 85.9},
      {"minute": 112.36, "bitrate": 80.0}, {"minute": 112.44, "bitrate": 57.5}, {"minute": 112.56, "bitrate": 46.7}, {"minute": 112.69, "bitrate": 42.8},
      {"minute": 112.81, "bitrate": 54.6}, {"minute": 112.93, "bitrate": 59.5}, {"minute": 113.05, "bitrate": 46.7}, {"minute": 113.17, "bitrate": 42.8},
      {"minute": 113.3, "bitrate": 46.7}, {"minute": 113.42, "bitrate": 55.5}, {"minute": 113.54, "bitrate": 70.2}, {"minute": 113.66, "bitrate": 82.0},
      {"minute": 113.78, "bitrate": 85.0}, {"minute": 113.91, "bitrate": 88.9}, {"minute": 114.03, "bitrate": 77.1}, {"minute": 114.15, "bitrate": 84.0},
      {"minute": 114.23, "bitrate": 85.0}, {"minute": 114.35, "bitrate": 73.2}, {"minute": 114.47, "bitrate": 68.3}, {"minute": 114.6, "bitrate": 35.0},
      {"minute": 114.68, "bitrate": 55.5}, {"minute": 114.8, "bitrate": 67.3}, {"minute": 114.92, "bitrate": 74.2}, {"minute": 115.04, "bitrate": 72.2},
      {"minute": 115.17, "bitrate": 77.1}, {"minute": 115.29, "bitrate": 70.2}, {"minute": 115.41, "bitrate": 50.6}, {"minute": 115.49, "bitrate": 44.8},
      {"minute": 115.61, "bitrate": 51.6}, {"minute": 115.73, "bitrate": 50.6}, {"minute": 115.86, "bitrate": 42.8}, {"minute": 115.98, "bitrate": 46.7},
      {"minute": 116.1, "bitrate": 39.9}, {"minute": 116.22, "bitrate": 34.0}, {"minute": 116.34, "bitrate": 31.0}, {"minute": 116.47, "bitrate": 38.9},
      {"minute": 116.59, "bitrate": 50.6}, {"minute": 116.71, "bitrate": 43.8}, {"minute": 116.83, "bitrate": 48.7}, {"minute": 116.95, "bitrate": 46.7},
      {"minute": 117.08, "bitrate": 57.5}, {"minute": 117.2, "bitrate": 70.2}, {"minute": 117.32, "bitrate": 40.8}, {"minute": 117.4, "bitrate": 69.3},
      {"minute": 117.52, "bitrate": 65.3}, {"minute": 117.65, "bitrate": 57.5}, {"minute": 117.77, "bitrate": 54.6}, {"minute": 117.89, "bitrate": 52.6},
      {"minute": 118.01, "bitrate": 43.8}, {"minute": 118.13, "bitrate": 46.7}, {"minute": 118.26, "bitrate": 42.8}, {"minute": 118.38, "bitrate": 50.6},
      {"minute": 118.5, "bitrate": 71.2}, {"minute": 118.58, "bitrate": 42.8}, {"minute": 118.66, "bitrate": 13.4}, {"minute": 118.7, "bitrate": 3.6},
      {"minute": 118.78, "bitrate": 11.4}, {"minute": 118.86, "bitrate": 29.1}, {"minute": 118.99, "bitrate": 37.9}, {"minute": 119.11, "bitrate": 33.0},
      {"minute": 119.23, "bitrate": 28.1}, {"minute": 119.35, "bitrate": 26.1}, {"minute": 119.47, "bitrate": 25.2}, {"minute": 119.6, "bitrate": 23.2},
      {"minute": 119.72, "bitrate": 24.2}, {"minute": 119.84, "bitrate": 23.2}, {"minute": 119.96, "bitrate": 24.2}, {"minute": 120.08, "bitrate": 23.2},
      {"minute": 120.21, "bitrate": 27.1}, {"minute": 120.33, "bitrate": 32.0}, {"minute": 120.45, "bitrate": 29.1}, {"minute": 120.57, "bitrate": 28.1},
      {"minute": 120.69, "bitrate": 29.1}, {"minute": 120.82, "bitrate": 31.0}, {"minute": 120.94, "bitrate": 32.0}, {"minute": 121.06, "bitrate": 36.9},
      {"minute": 121.18, "bitrate": 42.8}, {"minute": 121.26, "bitrate": 45.7}, {"minute": 121.34, "bitrate": 38.9}, {"minute": 121.43, "bitrate": 15.4},
      {"minute": 121.51, "bitrate": 31.0}, {"minute": 121.59, "bitrate": 29.1}, {"minute": 121.71, "bitrate": 36.9}, {"minute": 121.83, "bitrate": 35.0},
      {"minute": 121.95, "bitrate": 31.0}, {"minute": 122.08, "bitrate": 42.8}, {"minute": 122.16, "bitrate": 24.2}, {"minute": 122.24, "bitrate": 14.4},
      {"minute": 122.32, "bitrate": 23.2}, {"minute": 122.4, "bitrate": 30.1}, {"minute": 122.48, "bitrate": 29.1}, {"minute": 122.56, "bitrate": 12.4},
      {"minute": 122.62, "bitrate": 33.0}
    ]
  },
  "layer": [
    {
      "mark": {"type": "line", "color": "#7a7a7a", "strokeWidth": 1.1},
      "encoding": {
        "x": {
          "field": "minute", "type": "quantitative",
          "scale": {"domain": [0, 122.6], "nice": false, "zero": false},
          "axis": {"orient": "bottom", "values": [0, 20, 40, 60, 80, 100, 120], "tickSize": 7, "labelPadding": 10, "title": "Time (minutes)", "titlePadding": 12, "domain": true, "labelFlush": false}
        },
        "y": {
          "field": "bitrate", "type": "quantitative",
          "scale": {"domain": [0, 120], "nice": false},
          "axis": {"orient": "left", "values": [0, 20, 40, 60, 80, 100, 120], "tickSize": 7, "labelPadding": 9, "title": "Bitrate (Mbps)", "titlePadding": 21, "domain": true}
        }
      }
    },
    {
      "mark": {"type": "line", "strokeOpacity": 0},
      "encoding": {
        "x": {"field": "minute", "type": "quantitative", "axis": {"orient": "bottom", "values": [0, 20, 40, 60, 80, 100, 120], "tickSize": -7, "labels": false, "domain": false, "title": null}},
        "y": {"field": "bitrate", "type": "quantitative", "axis": {"orient": "left", "values": [0, 20, 40, 60, 80, 100, 120], "tickSize": -7, "labels": false, "domain": false, "title": null}}
      }
    },
    {
      "mark": {"type": "line", "strokeOpacity": 0},
      "encoding": {
        "x": {"field": "minute", "type": "quantitative", "axis": {"orient": "bottom", "values": [5, 10, 15, 25, 30, 35, 45, 50, 55, 65, 70, 75, 85, 90, 95, 105, 110, 115], "tickSize": 4, "labels": false, "domain": false, "title": null}},
        "y": {"field": "bitrate", "type": "quantitative", "axis": {"orient": "left", "values": [5, 10, 15, 25, 30, 35, 45, 50, 55, 65, 70, 75, 85, 90, 95, 105, 110, 115], "tickSize": -4, "labels": false, "domain": false, "title": null}}
      }
    },
    {
      "mark": {"type": "line", "strokeOpacity": 0},
      "encoding": {
        "x": {"field": "minute", "type": "quantitative", "axis": {"orient": "top", "values": [0, 20, 40, 60, 80, 100, 120], "tickSize": -7, "labels": false, "domain": false, "title": null}},
        "y": {"field": "bitrate", "type": "quantitative", "axis": {"orient": "right", "values": [0, 20, 40, 60, 80, 100, 120], "tickSize": 7, "labelPadding": 10, "domain": true, "title": null}}
      }
    },
    {
      "mark": {"type": "line", "strokeOpacity": 0},
      "encoding": {
        "x": {"field": "minute", "type": "quantitative", "axis": {"orient": "top", "values": [5, 10, 15, 25, 30, 35, 45, 50, 55, 65, 70, 75, 85, 90, 95, 105, 110, 115], "tickSize": -4, "labels": false, "domain": false, "title": null}},
        "y": {"field": "bitrate", "type": "quantitative", "axis": {"orient": "right", "values": [0, 20, 40, 60, 80, 100, 120], "tickSize": -7, "labels": false, "domain": false, "title": null}}
      }
    },
    {
      "mark": {"type": "line", "strokeOpacity": 0},
      "encoding": {
        "x": {"field": "minute", "type": "quantitative", "axis": null},
        "y": {"field": "bitrate", "type": "quantitative", "axis": {"orient": "right", "values": [5, 10, 15, 25, 30, 35, 45, 50, 55, 65, 70, 75, 85, 90, 95, 105, 110, 115], "tickSize": 4, "labels": false, "domain": false, "title": null}}
      }
    }
  ],
  "resolve": {"axis": {"x": "independent", "y": "independent"}}
}
